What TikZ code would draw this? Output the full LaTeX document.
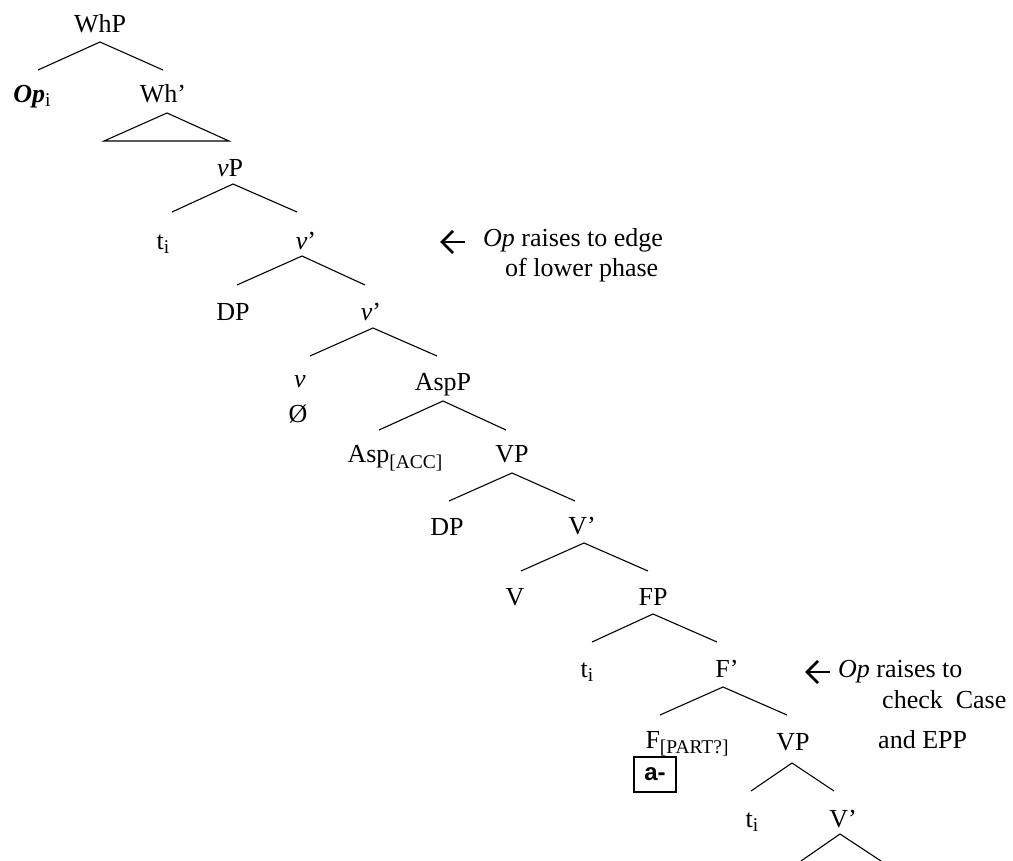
\documentclass[tikz,border=0pt]{standalone}
\usepackage{fontspec}
\setmainfont{Liberation Serif}
\newfontfamily\boxfont{Liberation Sans}
\usetikzlibrary{calc}

% lowered, smaller subscript text (feature bundles, indices)
\newcommand\lowsub[2][6pt]{\raisebox{-#1}{\fontsize{19.5}{20}\selectfont #2}}

% a binary branching below a node: parent, apex dx, apex dy, end dy, left dx, right dx
\newcommand\fork[6]{%
  \draw[branch] ($(#1.base)+(#2+#5,#4)$) -- ($(#1.base)+(#2,#3)$) -- ($(#1.base)+(#2+#6,#4)$);}

% hand-drawn left arrow in front of an annotation: note node, gap
\newcommand\notearrow[2]{%
  \draw[notearr] ($(#1.base west)+(-#2,-5)$) -- ++(-23,0);
  \draw[notearr] ($(#1.base west)+(-#2-12,-16)$) -- ($(#1.base west)+(-#2-23,-5)$) -- ($(#1.base west)+(-#2-12,6)$);}

\begin{document}
\begin{tikzpicture}[x=1pt,y=-1pt,
  every node/.style={font=\fontsize{26}{30}\selectfont, inner sep=0pt, anchor=base},
  branch/.style={line width=1.1pt},
  notearr/.style={line width=2.7pt, line cap=butt, line join=miter},
  morph/.style={draw, line width=1.3pt, anchor=center, minimum width=42pt, minimum height=35pt,
    font=\boxfont\bfseries\fontsize{24}{24}\selectfont}]
\useasboundingbox (0,0) rectangle (1013,861);

% ---- WhP
\node (whp) at (100,33) {WhP};
\node (op) at (32,103) {\textbf{\textit{Op}}\lowsub[4pt]{i}};
\node (whbar) at (163,103) {Wh’};
\fork{whp}{0}{9}{37}{-62}{63}
\draw[branch] ($(whbar.base)+(4,10)$) -- ($(whbar.base)+(-59,38)$) -- ($(whbar.base)+(66,38)$) -- cycle;

% ---- vP
\node (vp) at (230,177) {\textit{v}P};
\fork{vp}{3}{7}{35}{-61}{64}
\node (t1) at (163,250) {t\lowsub[4pt]{i}};
\node (vbar1) at (306,250) {\textit{v}’};
\fork{vbar1}{-4}{6}{35}{-65}{63}
\node (dp1) at (233,320) {DP};
\node (vbar2) at (371,320) {\textit{v}’};
\fork{vbar2}{2}{8}{36}{-63}{64}
\node (v) at (300,388) {\textit{v}};
\node (null) at (298,422) {Ø};
\node (aspp) at (443,390) {AspP};
\fork{aspp}{0}{11}{40}{-64}{63}

% ---- AspP complement
\node (asp) at (395,462) {Asp\lowsub{[ACC]}};
\node (vp1) at (512,462) {VP};
\fork{vp1}{0}{11}{39}{-63}{63}
\node (dp2) at (447,535) {DP};
\node (vbar3) at (582,534) {V’};
\fork{vbar3}{2}{9}{37}{-63}{64}
\node (verb) at (515,605) {V};
\node (fp) at (653,605) {FP};
\fork{fp}{0}{9}{37}{-61}{64}
\node (t2) at (587,677) {t\lowsub[4pt]{i}};
\node (fbar) at (727,677) {F’};
\fork{fbar}{-4}{10}{38}{-63}{64}
\node (f) at (687,748) {F\lowsub[5pt]{[PART?]}};
\node[morph] (abox) at (655,774.5) {a-};
\node (vp2) at (793,750) {VP};
\fork{vp2}{-1}{13}{41}{-41}{42}
\node (t3) at (752,827) {t\lowsub[4pt]{i}};
\node (vbar4) at (843,827) {V’};
\fork{vbar4}{-3}{7}{34}{-39}{41}

% ---- annotations
\node[anchor=base west] (note1) at (483,247) {\textit{Op} raises to edge};
\node[anchor=base west] (note1b) at (505,277) {of lower phase};
\notearrow{note1}{18}
\node[anchor=base west] (note2) at (838,677) {\textit{Op} raises to};
\node[anchor=base west] (note2b) at (882,708) {check\ \ Case};
\node[anchor=base west] (note2c) at (878,748) {and EPP};
\notearrow{note2}{8}
\end{tikzpicture}
\end{document}
